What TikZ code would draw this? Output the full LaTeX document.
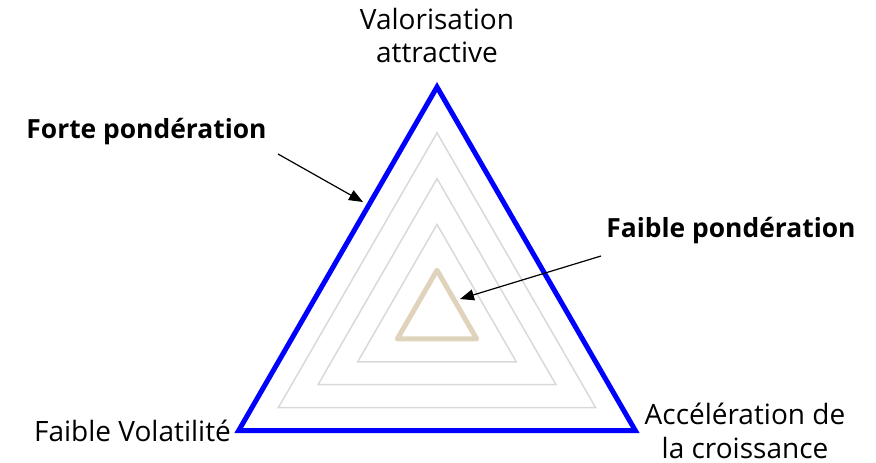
\documentclass[tikz,border=0pt]{standalone}
\usepackage{fontspec}
\setmainfont{Open Sans}
\usetikzlibrary{arrows.meta}
\definecolor{radarblue}{RGB}{0,0,255}
\definecolor{gridgray}{RGB}{217,217,217}
\definecolor{seriestan}{RGB}{223,211,188}
\begin{document}
\begin{tikzpicture}[x=1pt,y=-1pt,
  grid/.style={draw=gridgray,line width=1.5pt},
  outer/.style={draw=radarblue,line width=5pt},
  inner/.style={draw=seriestan,line width=5pt,line join=round},
  axislabel/.style={inner sep=0pt,align=center,text depth=0pt,font=\fontsize{28}{33.5}\selectfont},
  callout/.style={inner sep=0pt,anchor=base,font=\fontsize{26.4}{30}\selectfont\bfseries},
  pointer/.style={draw=black,line width=1.2pt,-{Triangle[length=14pt,width=11pt]}}]
\useasboundingbox (0,0) rectangle (876,463);
\coordinate (O) at (437,316);
% concentric grid levels
\foreach \k in {1,...,5}{
  \draw[grid,shift={(O)}] (0,-45.8*\k) -- (-39.66*\k,22.9*\k) -- (39.66*\k,22.9*\k) -- cycle;
}
% outer series (full weight)
\draw[outer,shift={(O)}] (0,-229) -- (-198.3,114.5) -- (198.3,114.5) -- cycle;
% inner series (low weight)
\draw[inner,shift={(O)}] (0,-45.8) -- (-39.66,22.9) -- (39.66,22.9) -- cycle;
% axis labels (south anchor sits on the last baseline)
\node[axislabel,anchor=south] (top) at (437,63) {Valorisation\\attractive};
\node[axislabel,anchor=south] (left) at (132.5,442) {Faible Volatilité};
\node[axislabel,anchor=south] (right) at (745,458.5) {Accélération de\\la croissance};
% callouts
\node[callout] (forte) at (146.5,138) {Forte pondération};
\node[callout] (faible) at (731,237) {Faible pondération};
\coordinate (forteStart) at (278,154);
\coordinate (forteEnd) at (363,202);
\coordinate (faibleStart) at (601,256);
\coordinate (faibleEnd) at (460,299);
\draw[pointer] (forteStart) -- (forteEnd);
\draw[pointer] (faibleStart) -- (faibleEnd);
\end{tikzpicture}
\end{document}
